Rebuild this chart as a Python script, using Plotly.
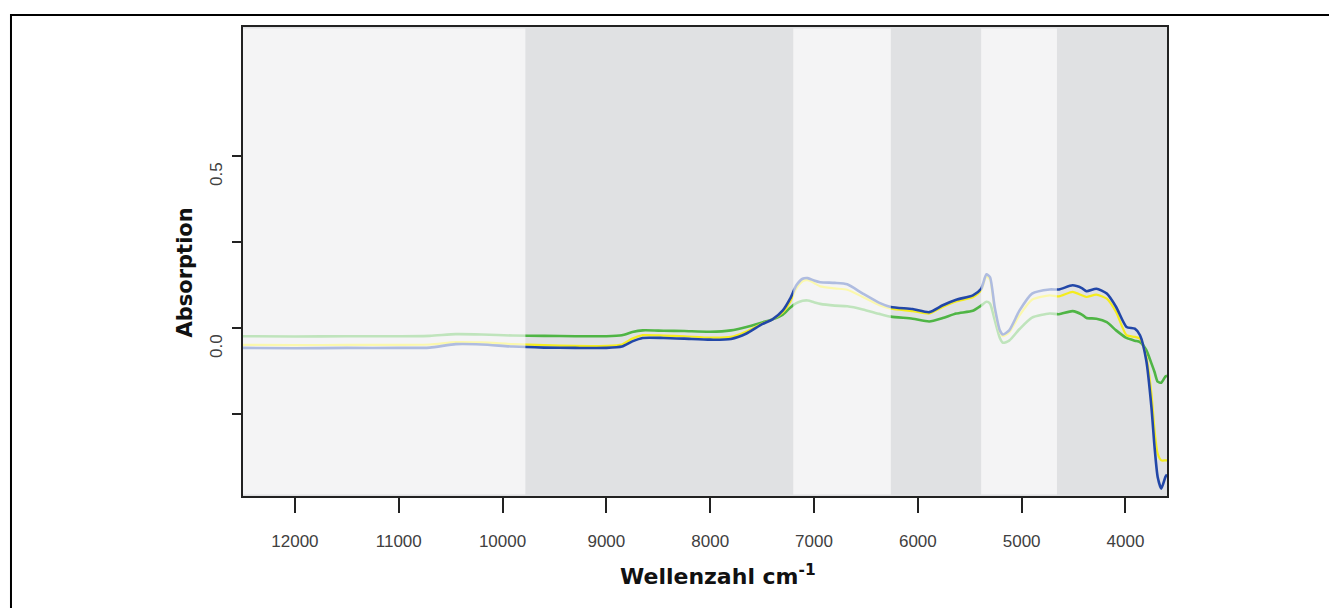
import plotly.graph_objects as go

# Wavenumber grid (cm^-1) shared by the three spectra
wavenumber = [12500, 12000, 11500, 11000, 10700, 10450, 10200, 9900, 9600, 9300,
              9000, 8850, 8750, 8650, 8450, 8250, 8000, 7800, 7650, 7500,
              7400, 7300, 7230, 7170, 7110, 7060, 7000, 6940, 6800, 6680,
              6530, 6370, 6260, 6050, 5890, 5760, 5630, 5470, 5390, 5340,
              5305, 5260, 5210, 5180, 5120, 5020, 4900, 4730, 4640, 4510,
              4420, 4375, 4280, 4180, 4090, 3990, 3910, 3860, 3800, 3750,
              3720, 3690, 3655, 3615, 3600]

absorption_green = [-0.023, -0.024, -0.023, -0.023, -0.022, -0.017, -0.018, -0.021, -0.022, -0.023,
                    -0.023, -0.020, -0.011, -0.006, -0.007, -0.008, -0.010, -0.006, 0.004, 0.017,
                    0.026, 0.040, 0.060, 0.073, 0.080, 0.081, 0.076, 0.071, 0.066, 0.064,
                    0.055, 0.042, 0.034, 0.028, 0.020, 0.030, 0.043, 0.051, 0.066, 0.077,
                    0.072, 0.025, -0.028, -0.042, -0.036, -0.002, 0.031, 0.043, 0.041, 0.050,
                    0.040, 0.030, 0.028, 0.018, -0.006, -0.028, -0.036, -0.040, -0.063, -0.102,
                    -0.127, -0.155, -0.158, -0.140, -0.138]

absorption_yellow = [-0.048, -0.049, -0.048, -0.048, -0.047, -0.040, -0.041, -0.046, -0.049, -0.051,
                     -0.051, -0.047, -0.030, -0.020, -0.021, -0.023, -0.027, -0.025, -0.009, 0.014,
                     0.026, 0.047, 0.077, 0.116, 0.137, 0.140, 0.132, 0.122, 0.116, 0.112,
                     0.091, 0.067, 0.057, 0.050, 0.043, 0.062, 0.078, 0.090, 0.110, 0.151,
                     0.141, 0.052, -0.010, -0.023, -0.012, 0.038, 0.083, 0.096, 0.093, 0.106,
                     0.096, 0.091, 0.098, 0.086, 0.047, -0.020, -0.025, -0.030, -0.083, -0.190,
                     -0.297, -0.364, -0.384, -0.384, -0.384]

absorption_blue = [-0.057, -0.058, -0.057, -0.057, -0.056, -0.046, -0.047, -0.053, -0.056, -0.057,
                   -0.057, -0.053, -0.038, -0.028, -0.028, -0.030, -0.033, -0.031, -0.015, 0.012,
                   0.026, 0.052, 0.086, 0.125, 0.144, 0.146, 0.139, 0.134, 0.132, 0.128,
                   0.101, 0.074, 0.062, 0.056, 0.047, 0.067, 0.083, 0.096, 0.115, 0.157,
                   0.149, 0.062, -0.006, -0.018, -0.006, 0.052, 0.101, 0.113, 0.113, 0.125,
                   0.117, 0.108, 0.115, 0.101, 0.062, 0.004, -0.001, -0.020, -0.093, -0.229,
                   -0.345, -0.432, -0.466, -0.432, -0.425]

# Spectral windows that are shaded lighter (start, end in cm^-1)
light_windows = [(12500, 9780), (7200, 6260), (5390, 4660)]

x_range = [12500, 3600]
y_range = [-0.4875, 0.876]
y_ticks = [-0.25, 0.0, 0.25, 0.5]
y_tick_labels = {0.0: "0.0", 0.5: "0.5"}
x_ticks = [12000, 11000, 10000, 9000, 8000, 7000, 6000, 5000, 4000]

fig = go.Figure()

series = [
    (absorption_green, "#4fb545", 2.6),
    (absorption_yellow, "#f4ec1e", 2.2),
    (absorption_blue, "#2247a8", 2.6),
]
for values, color, width in series:
    fig.add_trace(go.Scatter(
        x=wavenumber, y=values, mode="lines",
        line=dict(color=color, width=width, shape="spline", smoothing=0.6),
        showlegend=False, hoverinfo="skip",
    ))

# Light windows: translucent white veil over the grey panel and the spectra
for x0, x1 in light_windows:
    fig.add_shape(type="rect", xref="x", yref="paper",
                  x0=x0, x1=x1, y0=0.003, y1=0.997,
                  fillcolor="white", opacity=0.64, line_width=0, layer="above")

# Outer frame around the figure
fig.add_shape(type="rect", xref="paper", yref="paper",
              x0=-0.2511, x1=1.2, y0=-0.3, y1=1.0256,
              line=dict(color="black", width=2), fillcolor="rgba(0,0,0,0)",
              layer="above")

tick_font = dict(family="Liberation Sans, Arial, sans-serif", size=17, color="#404040")

fig.update_xaxes(
    range=x_range, tickvals=x_ticks, ticktext=[str(t) for t in x_ticks],
    showgrid=False, zeroline=False,
    showline=True, linecolor="#222222", linewidth=1.5, mirror=True,
    ticks="outside", ticklen=15, tickwidth=1.5, tickcolor="#222222",
    tickfont=tick_font, ticklabelstandoff=14,
)
fig.update_yaxes(
    range=y_range, tickvals=y_ticks, showticklabels=False,
    showgrid=False, zeroline=False,
    showline=True, linecolor="#222222", linewidth=1.5, mirror=True,
    ticks="outside", ticklen=9, tickwidth=1.5, tickcolor="#222222",
)

annotations = []
for val, txt in y_tick_labels.items():
    annotations.append(dict(
        x=-0.0285, xref="paper", y=val, yref="y", yshift=-18,
        text=txt, textangle=-90, showarrow=False,
        xanchor="center", yanchor="middle", font=tick_font,
    ))
annotations.append(dict(
    x=-0.0628, xref="paper", y=0.4765, yref="paper",
    text="Absorption", textangle=-90, showarrow=False,
    xanchor="center", yanchor="middle",
    font=dict(family="DejaVu Sans, sans-serif", size=21, color="#111111", weight="bold"),
))
annotations.append(dict(
    x=0.514, xref="paper", y=-0.168, yref="paper",
    text="Wellenzahl cm<sup>-1</sup>", showarrow=False,
    xanchor="center", yanchor="middle",
    font=dict(family="DejaVu Sans, sans-serif", size=22, color="#111111", weight="bold"),
))

fig.update_layout(
    width=1329, height=608,
    margin=dict(l=243, r=162, t=27, b=112),
    paper_bgcolor="white", plot_bgcolor="#e0e1e3",
    annotations=annotations,
)

fig.write_html("out.html", config={"displayModeBar": False})
